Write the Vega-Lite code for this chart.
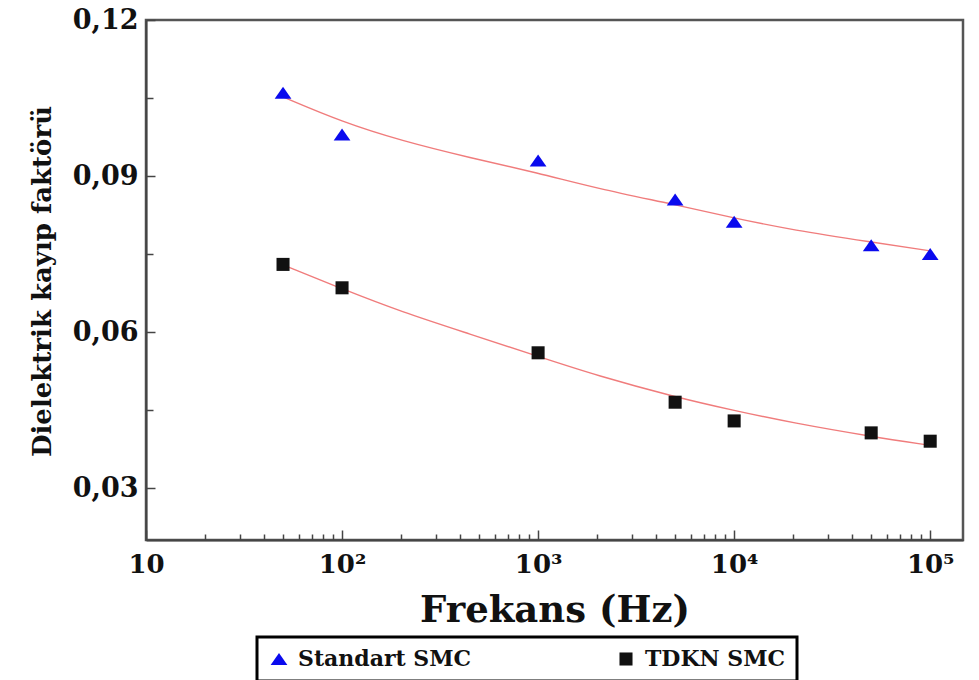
{
  "$schema": "https://vega.github.io/schema/vega-lite/v6.json",
  "width": 817,
  "height": 520,
  "autosize": {"type": "none"},
  "padding": {"left": 146, "top": 20, "right": 16, "bottom": 140},
  "background": "white",
  "datasets": {
    "pts": [
      {"s": "Standart SMC", "f": 50, "v": 0.106},
      {"s": "Standart SMC", "f": 100, "v": 0.098},
      {"s": "Standart SMC", "f": 1000, "v": 0.093},
      {"s": "Standart SMC", "f": 5000, "v": 0.0855},
      {"s": "Standart SMC", "f": 10000, "v": 0.0812},
      {"s": "Standart SMC", "f": 50000, "v": 0.0767},
      {"s": "Standart SMC", "f": 100000, "v": 0.075},
      {"s": "TDKN SMC", "f": 50, "v": 0.073},
      {"s": "TDKN SMC", "f": 100, "v": 0.0685},
      {"s": "TDKN SMC", "f": 1000, "v": 0.056},
      {"s": "TDKN SMC", "f": 5000, "v": 0.0465},
      {"s": "TDKN SMC", "f": 10000, "v": 0.0429},
      {"s": "TDKN SMC", "f": 50000, "v": 0.0406},
      {"s": "TDKN SMC", "f": 100000, "v": 0.039}
    ],
    "fit": [
      {"g": "Standart fit", "f": 50, "v": 0.1052},
      {"g": "Standart fit", "f": 100, "v": 0.1004},
      {"g": "Standart fit", "f": 200, "v": 0.0968},
      {"g": "Standart fit", "f": 450, "v": 0.0935},
      {"g": "Standart fit", "f": 1000, "v": 0.0906},
      {"g": "Standart fit", "f": 2000, "v": 0.0876},
      {"g": "Standart fit", "f": 5000, "v": 0.0845},
      {"g": "Standart fit", "f": 10000, "v": 0.0819},
      {"g": "Standart fit", "f": 20000, "v": 0.0796},
      {"g": "Standart fit", "f": 50000, "v": 0.0773},
      {"g": "Standart fit", "f": 100000, "v": 0.0756},
      {"g": "TDKN fit", "f": 50, "v": 0.0729},
      {"g": "TDKN fit", "f": 100, "v": 0.0683},
      {"g": "TDKN fit", "f": 200, "v": 0.0639},
      {"g": "TDKN fit", "f": 450, "v": 0.0596},
      {"g": "TDKN fit", "f": 1000, "v": 0.0553},
      {"g": "TDKN fit", "f": 2000, "v": 0.0516},
      {"g": "TDKN fit", "f": 5000, "v": 0.0475},
      {"g": "TDKN fit", "f": 10000, "v": 0.0449},
      {"g": "TDKN fit", "f": 20000, "v": 0.0425},
      {"g": "TDKN fit", "f": 50000, "v": 0.0399},
      {"g": "TDKN fit", "f": 100000, "v": 0.0382}
    ]
  },
  "encoding": {
    "x": {
      "field": "f",
      "type": "quantitative",
      "scale": {"type": "log", "domain": [10, 147000], "nice": false},
      "axis": {
        "title": "Frekans (Hz)",
        "values": [10, 20, 30, 40, 50, 60, 70, 80, 90, 100, 200, 300, 400, 500, 600, 700, 800, 900, 1000, 2000, 3000, 4000, 5000, 6000, 7000, 8000, 9000, 10000, 20000, 30000, 40000, 50000, 60000, 70000, 80000, 90000, 100000],
        "labelExpr": "datum.value == 10 ? '10' : datum.value == 100 ? '10²' : datum.value == 1000 ? '10³' : datum.value == 10000 ? '10⁴' : datum.value == 100000 ? '10⁵' : ''",
        "tickSize": {"condition": {"test": "indexof([10,100,1000,10000,100000], datum.value) >= 0", "value": -10}, "value": -6},
        "labelPadding": 21,
        "labelFontSize": 26,
        "labelFlush": false,
        "labelOverlap": false,
        "titleFontSize": 37,
        "titleY": 81,
        "titleBaseline": "alphabetic"
      }
    },
    "y": {
      "field": "v",
      "type": "quantitative",
      "scale": {"domain": [0.02, 0.12], "nice": false, "zero": false},
      "axis": {
        "title": "Dielektrik kayıp faktörü",
        "values": [0.03, 0.045, 0.06, 0.075, 0.09, 0.105, 0.12],
        "labelExpr": "indexof([0.03,0.06,0.09,0.12], datum.value) >= 0 ? replace(format(datum.value, '.2f'), '.', ',') : ''",
        "tickSize": {"condition": {"test": "indexof([0.03,0.06,0.09,0.12], datum.value) >= 0", "value": -9}, "value": -7},
        "labelPadding": 17,
        "labelFontSize": 27,
        "labelOverlap": false,
        "labelFlush": false,
        "titleFontSize": 26,
        "titleX": -96,
        "titleY": 261,
        "titleBaseline": "alphabetic"
      }
    }
  },
  "layer": [
    {
      "data": {"name": "fit"},
      "mark": {"type": "line", "stroke": "#f07c7c", "strokeWidth": 1.4, "interpolate": "basis"},
      "encoding": {"detail": {"field": "g", "type": "nominal"}}
    },
    {
      "data": {"name": "pts"},
      "mark": {"type": "point", "filled": true, "opacity": 1},
      "encoding": {
        "size": {
          "field": "s",
          "type": "nominal",
          "scale": {"domain": ["Standart SMC", "TDKN SMC"], "range": [280, 170]},
          "legend": null
        },
        "color": {
          "field": "s",
          "type": "nominal",
          "scale": {"domain": ["Standart SMC", "TDKN SMC"], "range": ["#0a0aee", "#111111"]},
          "legend": {
            "title": null,
            "orient": "none",
            "legendX": 111,
            "legendY": 617,
            "direction": "horizontal",
            "columns": 2,
            "columnPadding": 143,
            "padding": 11,
            "strokeColor": "#000000",
            "labelFont": "DejaVu Serif",
            "labelFontSize": 22,
            "labelFontWeight": "bold",
            "labelLimit": 400,
            "labelOffset": 8,
            "symbolSize": 200
          }
        },
        "shape": {
          "field": "s",
          "type": "nominal",
          "scale": {"domain": ["Standart SMC", "TDKN SMC"], "range": ["M0,-0.72L1,0.72L-1,0.72Z", "square"]},
          "legend": {
            "title": null,
            "orient": "none",
            "legendX": 111,
            "legendY": 617,
            "direction": "horizontal",
            "columns": 2,
            "columnPadding": 143,
            "padding": 11,
            "strokeColor": "#000000",
            "labelFont": "DejaVu Serif",
            "labelFontSize": 22,
            "labelFontWeight": "bold",
            "labelLimit": 400,
            "labelOffset": 8,
            "symbolSize": 200
          }
        }
      }
    }
  ],
  "config": {
    "font": "DejaVu Serif",
    "view": {"stroke": "#555555", "strokeWidth": 2.5},
    "axis": {
      "labelFont": "DejaVu Serif",
      "labelFontWeight": "bold",
      "labelColor": "#111111",
      "titleFont": "DejaVu Serif",
      "titleFontWeight": "bold",
      "titleColor": "#111111",
      "domainColor": "#444444",
      "domainWidth": 2,
      "tickColor": "#444444",
      "tickWidth": 1.5,
      "grid": false
    },
    "legend": {
      "labelFont": "DejaVu Serif",
      "labelColor": "#111111",
      "strokeWidth": 3,
      "symbolStrokeWidth": 0,
      "symbolType": "circle"
    }
  }
}
